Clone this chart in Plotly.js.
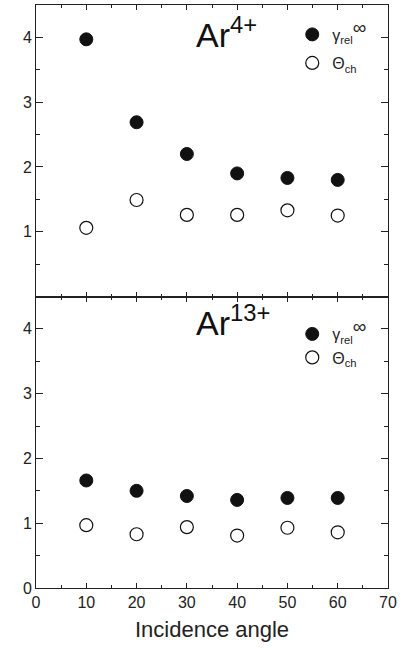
<!DOCTYPE html>
<html>
<head>
<meta charset="utf-8">
<script src="https://cdn.plot.ly/plotly-3.0.1.min.js"></script>
<style>html,body{margin:0;padding:0;background:#fff;}#chart{width:404px;height:651px;}</style>
</head>
<body>
<div id="chart"></div>
<script>
const angles = [10, 20, 30, 40, 50, 60];
const ar4Gamma = [3.97, 2.69, 2.20, 1.90, 1.83, 1.80];
const ar4Theta = [1.06, 1.49, 1.26, 1.26, 1.33, 1.25];
const ar13Gamma = [1.66, 1.50, 1.42, 1.36, 1.39, 1.39];
const ar13Theta = [0.97, 0.83, 0.94, 0.81, 0.93, 0.86];
const xTicks = [0, 10, 20, 30, 40, 50, 60, 70];
const yTicksTop = [1, 2, 3, 4];
const yTicksBottom = [0, 1, 2, 3, 4];
const gammaName = "γ<sub>rel</sub><sup><span style='font-size:19px'>∞</span></sup>";
const thetaName = "Θ<sub>ch</sub>";
const topLabel = "Ar<sup>4+</sup>";
const bottomLabel = "Ar<sup>13+</sup>";
const xTitle = "Incidence angle";

const FONT = "Liberation Sans, Arial, Helvetica, sans-serif";
const filled = {size: 13, color: "#111", line: {color: "#111", width: 1}};
const open = {size: 13, color: "#fff", line: {color: "#111", width: 1.2}};

const traces = [
  {x: angles, y: ar4Gamma, xaxis: "x2", yaxis: "y2", mode: "markers", type: "scatter", name: gammaName, marker: filled, legend: "legend"},
  {x: angles, y: ar4Theta, xaxis: "x2", yaxis: "y2", mode: "markers", type: "scatter", name: thetaName, marker: open, legend: "legend2"},
  {x: angles, y: ar13Gamma, xaxis: "x", yaxis: "y", mode: "markers", type: "scatter", name: gammaName, marker: filled, legend: "legend3"},
  {x: angles, y: ar13Theta, xaxis: "x", yaxis: "y", mode: "markers", type: "scatter", name: thetaName, marker: open, legend: "legend4"}
];

const axisCommon = {
  showline: true, linecolor: "#222", linewidth: 1, mirror: "ticks",
  ticks: "inside", tickcolor: "#222", showgrid: false, zeroline: false,
  tickfont: {family: FONT, size: 16, color: "#222"}
};

function legendAt(y, anchor) {
  return {x: 0.728, y: y, xanchor: "left", yanchor: anchor, bgcolor: "rgba(0,0,0,0)",
          font: {family: FONT, size: 16, color: "#222"}, tracegroupgap: 0};
}

const layout = {
  width: 404, height: 651,
  margin: {l: 36, r: 16, t: 5, b: 63},
  paper_bgcolor: "#fff", plot_bgcolor: "#fff",
  font: {family: FONT, color: "#222"},
  xaxis: Object.assign({}, axisCommon, {
    domain: [0, 1], anchor: "y", range: [0, 70], tickvals: xTicks, ticklen: 5,
    minor: {dtick: 5, ticks: "inside", ticklen: 3, tickcolor: "#222"},
    title: {text: xTitle, font: {family: FONT, size: 22, color: "#222"}, standoff: 11}
  }),
  xaxis2: Object.assign({}, axisCommon, {
    domain: [0, 1], anchor: "y2", matches: "x", range: [0, 70], tickvals: xTicks, ticklen: 5,
    showticklabels: false,
    minor: {dtick: 5, ticks: "inside", ticklen: 3, tickcolor: "#222"}
  }),
  yaxis: Object.assign({}, axisCommon, {
    domain: [0, 0.5], anchor: "x", range: [0, 4.5], tickvals: yTicksBottom, ticklen: 7,
    minor: {dtick: 0.5, ticks: "inside", ticklen: 4, tickcolor: "#222"}
  }),
  yaxis2: Object.assign({}, axisCommon, {
    domain: [0.5, 1], anchor: "x2", range: [0, 4.5], tickvals: yTicksTop, ticklen: 7,
    minor: {dtick: 0.5, ticks: "inside", ticklen: 4, tickcolor: "#222"}
  }),
  showlegend: true,
  legend: legendAt(0.9786, "top"),
  legend2: legendAt(0.9005, "middle"),
  legend3: legendAt(0.4648, "top"),
  legend4: legendAt(0.3954, "middle"),
  annotations: [
    {text: topLabel, xref: "paper", yref: "paper", x: 0.45, y: 0.952, xanchor: "left", yanchor: "middle",
     showarrow: false, font: {family: FONT, size: 34, color: "#111"}},
    {text: bottomLabel, xref: "paper", yref: "paper", x: 0.45, y: 0.458, xanchor: "left", yanchor: "middle",
     showarrow: false, font: {family: FONT, size: 34, color: "#111"}}
  ]
};

Plotly.newPlot("chart", traces, layout, {displayModeBar: false, staticPlot: true});
</script>
</body>
</html>
